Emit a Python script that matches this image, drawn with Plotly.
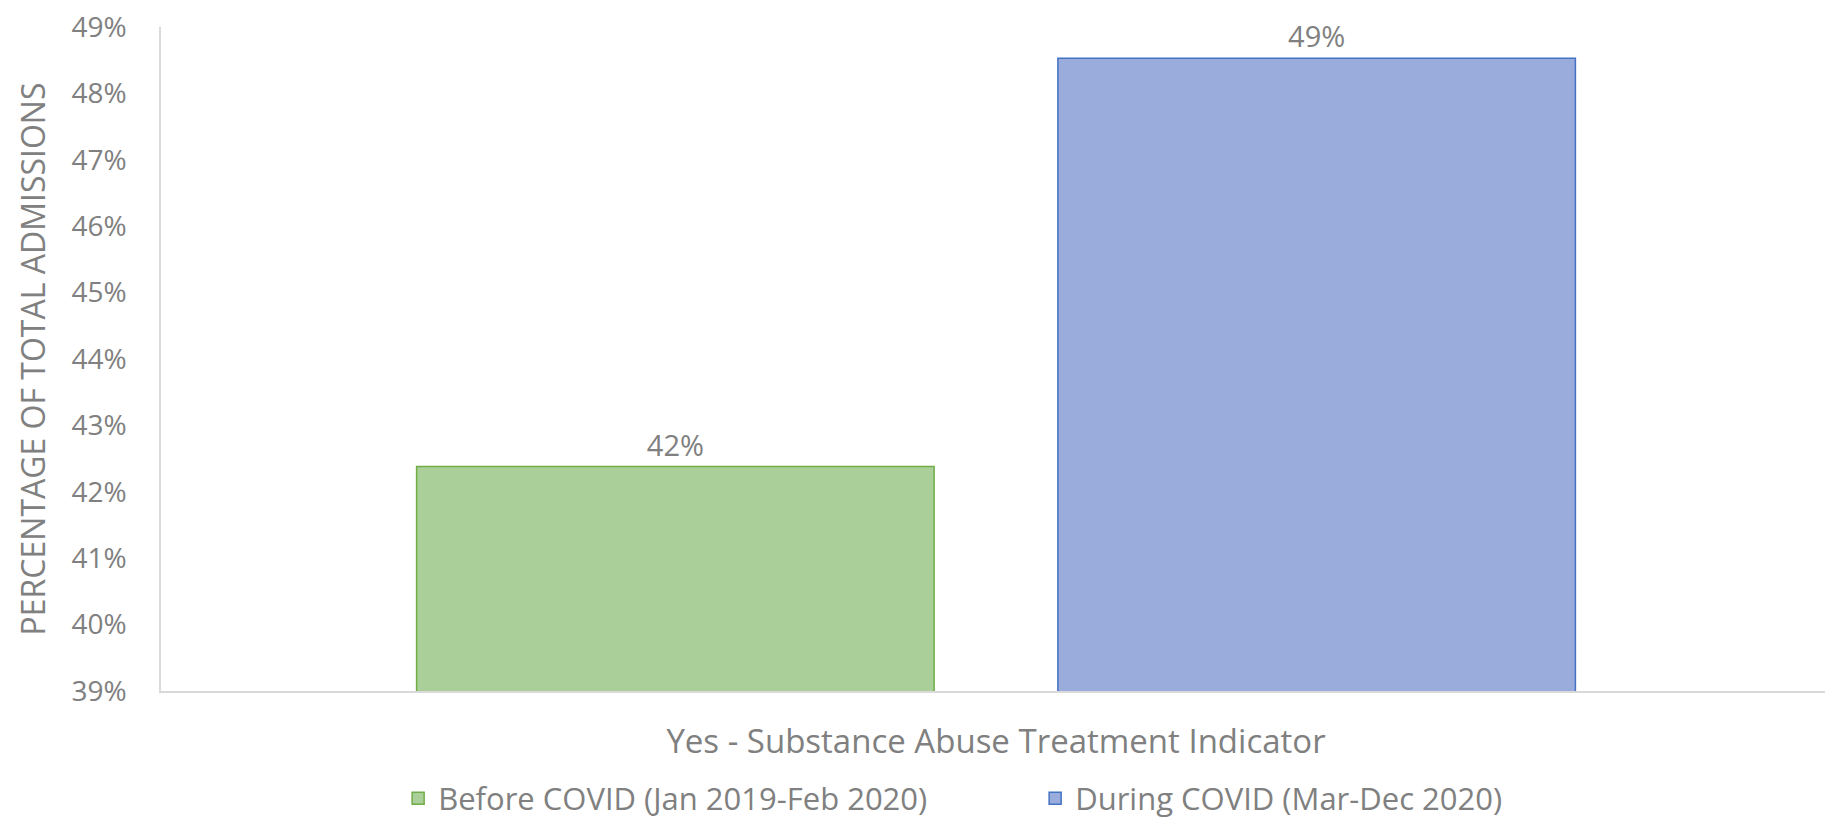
import plotly.graph_objects as go

categories = ['Yes - Substance Abuse Treatment Indicator']
series_names = ['Before COVID (Jan 2019-Feb 2020)', 'During COVID (Mar-Dec 2020)']
before_vals = [0.4238]
during_vals = [0.4853]
tick_vals = [0.39, 0.40, 0.41, 0.42, 0.43, 0.44, 0.45, 0.46, 0.47, 0.48, 0.49]

FONT = 'Open Sans'
GREY = '#808080'

fig = go.Figure()

fig.add_trace(go.Bar(
    x=categories, y=before_vals, name=series_names[0],
    marker=dict(color='#aacf98', line=dict(color='#70ad47', width=1.5)),
    text=[f'{v:.0%}' for v in before_vals], textposition='outside',
    textfont=dict(size=29, color=GREY, family=FONT), cliponaxis=False,
))
fig.add_trace(go.Bar(
    x=categories, y=during_vals, name=series_names[1],
    marker=dict(color='#9aacdb', line=dict(color='#4472c4', width=1.5)),
    text=[f'{v:.0%}' for v in during_vals], textposition='outside',
    textfont=dict(size=29, color=GREY, family=FONT), cliponaxis=False,
))

# page body has an 8px margin, so the figure is 8px smaller than the window
fig.update_layout(
    width=1825, height=811,
    margin=dict(l=153, r=2, t=19, b=128, autoexpand=False),
    paper_bgcolor='white', plot_bgcolor='white',
    font=dict(family=FONT, color=GREY, size=32),
    barmode='group', bargap=0.232, bargroupgap=0.193,
    showlegend=True,
    legend=dict(orientation='h', x=0.142, xanchor='left', y=-0.162, yanchor='middle',
                font=dict(size=31, color=GREY, family=FONT), itemwidth=30,
                entrywidth=592),
    xaxis=dict(showline=True, linecolor='#d9d9d9', linewidth=1.5, ticks='',
               ticklabelstandoff=21, tickfont=dict(size=33, color=GREY)),
    yaxis=dict(range=[0.39, 0.49], tickvals=tick_vals, tickformat='.0%',
               showgrid=False, zeroline=False, showline=True, linecolor='#d9d9d9',
               linewidth=1.5, ticks='', ticklabelstandoff=27,
               ticklabeloverflow='allow',
               tickfont=dict(size=28, color=GREY),
               title=dict(text='PERCENTAGE OF TOTAL ADMISSIONS', standoff=16,
                          font=dict(size=32, color=GREY))),
)

fig.write_html('out.html')
